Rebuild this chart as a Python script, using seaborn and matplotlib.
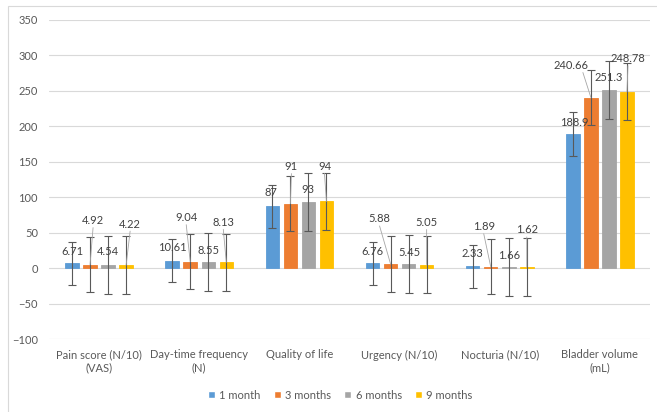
import matplotlib
matplotlib.use("Agg")
import pandas as pd
import matplotlib.pyplot as plt
import seaborn as sns
from matplotlib.patches import Patch, Rectangle

# chart data
categories = ["Pain score (N/10)\n(VAS)", "Day-time frequency\n(N)", "Quality of life",
              "Urgency (N/10)", "Nocturia (N/10)", "Bladder volume\n(mL)"]
periods = ["1 month", "3 months", "6 months", "9 months"]
month_1 = [6.71, 10.61, 87, 6.76, 2.33, 188.9]
month_3 = [4.92, 9.04, 91, 5.88, 1.89, 240.66]
month_6 = [4.54, 8.55, 93, 5.45, 1.66, 251.3]
month_9 = [4.22, 8.13, 94, 5.05, 1.62, 248.78]
# error bar size (one value per series)
errors = [30.7, 39.0, 40.7, 40.4]

colors = ["#5B9BD5", "#ED7D31", "#A5A5A5", "#FFC000"]

# where each data label sits, in pixels from the top of its bar
label_offsets = [
    [(0, 12), (0, 13), (-1, 14), (0, 12), (0, 13), (1, 12)],
    [(3, 44), (-4, 44), (1, 37), (-11, 45), (-7, 40), (-20, 32)],
    [(0, 13), (0, 12), (-1, 13), (1, 12), (0, 11), (0, 12)],
    [(4, 41), (-3, 40), (-2, 35), (0, 42), (0, 37), (1, 33)],
]

series = [month_1, month_3, month_6, month_9]
rows = []
for period, vals in zip(periods, series):
    for cat, v in zip(categories, vals):
        rows.append({"category": cat, "period": period, "value": v})
df = pd.DataFrame(rows)

sns.set_theme(style="white")
plt.rcParams["font.family"] = ["Lato", "DejaVu Sans"]

fig = plt.figure(figsize=(6.57, 4.12), dpi=100)
ax = fig.add_axes([49 / 657, 1 - 339 / 412, 601 / 657, 319 / 412])

sns.barplot(data=df, x="category", y="value", hue="period", order=categories,
            hue_order=periods, palette=colors, saturation=1, width=0.72, gap=0.25,
            errorbar=None, ax=ax, legend=False)

bar_groups = list(ax.containers)
for i, cont in enumerate(bar_groups):
    xs = [p.get_x() + p.get_width() / 2 for p in cont.patches]
    for p in cont.patches:
        p.set_edgecolor(colors[i])
        p.set_linewidth(0.6)
    vals = series[i]
    ax.errorbar(xs, vals, yerr=errors[i], fmt="none", ecolor="#595959",
                elinewidth=0.8, capsize=3, capthick=0.8, zorder=3)
    for x, v, (dx, dy) in zip(xs, vals, label_offsets[i]):
        ax.annotate(f"{v:g}", xy=(x, v), xytext=(dx, dy), textcoords="offset pixels",
                    ha="center", va="center", fontsize=8, color="#404040", zorder=5)
        if dy > 30:
            sx = dx + 12 if dx < -15 else dx
            ax.annotate("", xy=(x, v), xytext=(sx, dy - 7), textcoords="offset pixels",
                        arrowprops=dict(arrowstyle="-", color="#A6A6A6", lw=0.6,
                                        shrinkA=0, shrinkB=0), zorder=4)

ax.set_ylim(-100, 350)
ax.set_yticks(range(-100, 351, 50))
ax.set_xlim(-0.5, 5.5)
ax.set_xticks(range(len(categories)))
ax.set_xticklabels([])
# category names: each line drawn centred under its group
for i, cat in enumerate(categories):
    for j, line in enumerate(cat.split("\n")):
        ax.annotate(line, xy=(i, 0), xycoords=("data", "axes fraction"),
                    xytext=(0, -16 - 13 * j), textcoords="offset pixels",
                    ha="center", va="center", fontsize=8, color="#595959")
ax.yaxis.grid(True, color="#D9D9D9", linewidth=0.8)
ax.set_axisbelow(True)
for s in ax.spines.values():
    s.set_visible(False)
ax.tick_params(axis="both", length=0, labelsize=8, labelcolor="#595959")
ax.tick_params(axis="y", pad=8)
ax.set_xlabel("")
ax.set_ylabel("")

handles = [Patch(facecolor=c, label=p) for c, p in zip(colors, periods)]
fig.legend(handles=handles, loc="center", bbox_to_anchor=(0.518, 0.041), ncol=4,
           frameon=False, fontsize=8, handlelength=0.6, handleheight=0.6,
           handletextpad=0.4, columnspacing=1.2, labelcolor="#595959")

# chart area border
fig.patches.append(Rectangle((8 / 657, -0.1), 1.2, 1.1 - 6 / 412, transform=fig.transFigure,
                             fill=False, edgecolor="#D9D9D9", linewidth=0.8))

fig.savefig("out.png", dpi=100)
